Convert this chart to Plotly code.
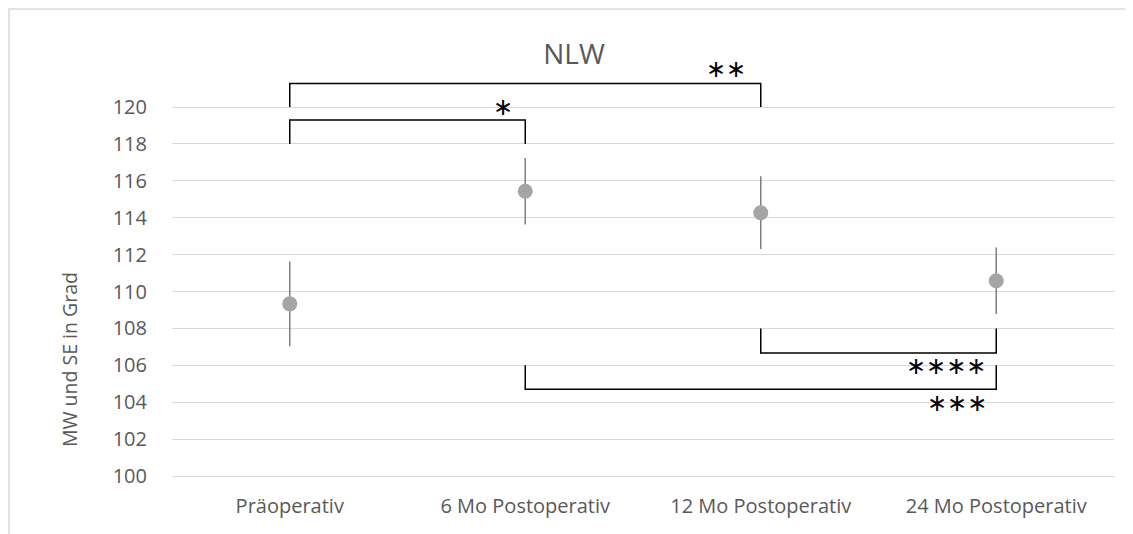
import plotly.graph_objects as go

# ---- data ----
categories = ["Präoperativ", "6 Mo Postoperativ", "12 Mo Postoperativ", "24 Mo Postoperativ"]
means = [109.33, 115.43, 114.27, 110.58]
se = [2.3, 1.8, 1.97, 1.8]

# significance brackets: (from index, to index, leg end value, bar value, label)
br_from = [0, 0, 2, 1]
br_to = [1, 2, 3, 3]
br_leg = [118.0, 120.0, 108.0, 106.0]
br_bar = [119.3, 121.27, 106.66, 104.7]
br_label = ["∗", "∗∗", "∗∗∗∗", "∗∗∗"]
lab_x = [0.904, 1.852, 2.785, 2.832]
lab_y = [120.02, 122.04, 105.96, 103.97]

title_text = "NLW"
y_title = "MW und SE in Grad"
y_ticks = list(range(100, 121, 2))

OFF = 8  # page body margin
W, H = 1133 - OFF, 534 - OFF
L, R, T, B = 172 - OFF, 19, 60 - OFF, 58
ppu = 369 / 20.0
y_top = 100 + (H - B - T) / ppu

x_idx = list(range(len(categories)))

fig = go.Figure()
fig.add_trace(go.Scatter(
    x=x_idx, y=means, mode="markers",
    marker=dict(size=15, color="#a5a5a5"),
    error_y=dict(type="data", array=se, visible=True, color="#7f7f7f", thickness=1.5, width=0),
    showlegend=False, hoverinfo="skip",
))

shapes = []
for f, t, leg, bar in zip(br_from, br_to, br_leg, br_bar):
    shapes.append(dict(
        type="path", xref="x", yref="y",
        path=f"M {f},{leg} L {f},{bar} L {t},{bar} L {t},{leg}",
        line=dict(color="#000000", width=1.5),
    ))

plot_w = W - L - R
plot_h = H - T - B
# chart-area border (light gray), at the very top-left of the figure
shapes.append(dict(
    type="rect", xref="paper", yref="paper",
    x0=(1 - L) / plot_w, x1=1.2, y0=-0.3, y1=(H - B - 1) / plot_h,
    line=dict(color="#d9d9d9", width=1.5), fillcolor="rgba(0,0,0,0)", layer="below",
))

annotations = []
for lx, ly, lab in zip(lab_x, lab_y, br_label):
    annotations.append(dict(
        x=lx, y=ly, xref="x", yref="y", text=lab, showarrow=False,
        font=dict(family="DejaVu Sans", size=24, color="#000000"),
        xanchor="center", yanchor="middle",
    ))

annotations.append(dict(
    x=(69 - OFF - L) / plot_w, y=(H - B - (360 - OFF)) / plot_h, xref="paper", yref="paper",
    text=y_title, textangle=-90, showarrow=False,
    font=dict(family="Open Sans", size=19.5, color="#595959"),
    xanchor="center", yanchor="middle",
))

fig.update_layout(
    width=W, height=H,
    margin=dict(l=L, r=R, t=T, b=B, pad=0),
    paper_bgcolor="white", plot_bgcolor="white",
    title=dict(text=title_text, x=(574 - OFF) / W, xanchor="center", y=1 - (54 - OFF) / H, yanchor="middle",
               font=dict(family="Open Sans", size=28, color="#595959")),
    shapes=shapes, annotations=annotations,
    xaxis=dict(
        range=[-0.5, len(categories) - 0.5], tickvals=x_idx, ticktext=categories,
        showgrid=False, zeroline=False, showline=True, linecolor="#d9d9d9", linewidth=1,
        ticks="outside", ticklen=12, tickcolor="rgba(0,0,0,0)",
        tickfont=dict(family="Open Sans", size=20, color="#595959"),
    ),
    yaxis=dict(
        range=[100, y_top], tickvals=y_ticks,
        showgrid=True, gridcolor="#d9d9d9", gridwidth=1, zeroline=False, showline=False,
        ticks="outside", ticklen=20, tickcolor="rgba(0,0,0,0)",
        tickfont=dict(family="Open Sans", size=20, color="#595959"),
    ),
)

fig.write_html("out.html")
